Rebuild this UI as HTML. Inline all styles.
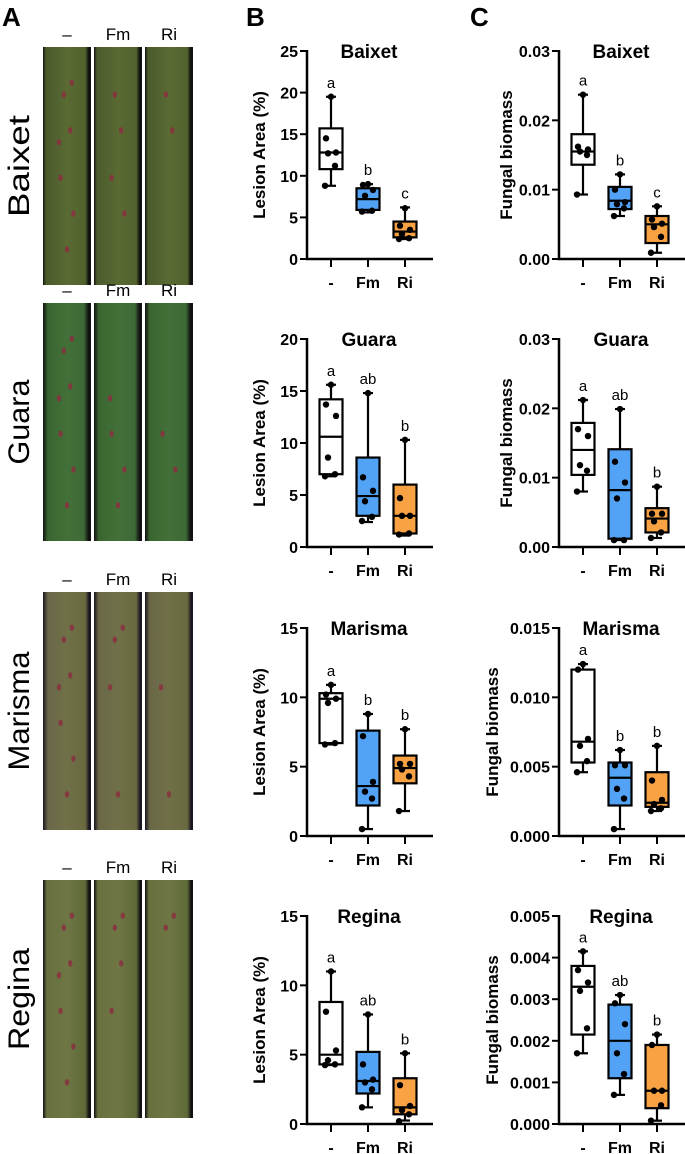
<!DOCTYPE html>
<html><head><meta charset="utf-8"><style>
html,body{margin:0;padding:0;background:#fff}
svg{display:block}
text{font-family:"Liberation Sans",Arial,sans-serif}
</style></head><body>
<svg id="fig" width="685" height="1154" viewBox="0 0 685 1154" xmlns="http://www.w3.org/2000/svg">
<defs>
<linearGradient id="lg0" x1="0" x2="1"><stop offset="0" stop-color="#111"/><stop offset="0.06" stop-color="#4a5a2c"/><stop offset="0.5" stop-color="#5a6a33"/><stop offset="0.88" stop-color="#52622d"/><stop offset="0.95" stop-color="#111"/></linearGradient>
<linearGradient id="lg1" x1="0" x2="1"><stop offset="0" stop-color="#111"/><stop offset="0.1" stop-color="#3a6530"/><stop offset="0.5" stop-color="#437038"/><stop offset="0.85" stop-color="#3d6a36"/><stop offset="0.95" stop-color="#111"/></linearGradient>
<linearGradient id="lg2" x1="0" x2="1"><stop offset="0" stop-color="#1a1520"/><stop offset="0.1" stop-color="#6a6848"/><stop offset="0.5" stop-color="#707048"/><stop offset="0.88" stop-color="#6a6a40"/><stop offset="0.96" stop-color="#1a1520"/></linearGradient>
<linearGradient id="lg3" x1="0" x2="1"><stop offset="0" stop-color="#111"/><stop offset="0.08" stop-color="#687040"/><stop offset="0.5" stop-color="#6e7644"/><stop offset="0.88" stop-color="#5d6a38"/><stop offset="0.96" stop-color="#111"/></linearGradient>
</defs>
<g id="leaves"></g>
<g id="charts"></g>
<text x="2" y="26" font-size="26" font-weight="bold">A</text>
<text x="246" y="26" font-size="26" font-weight="bold">B</text>
<text x="470" y="26" font-size="26" font-weight="bold">C</text>
</svg>
<script>
const NS="http://www.w3.org/2000/svg";
function mk(tag,attrs,parent){const e=document.createElementNS(NS,tag);for(const k in attrs)e.setAttribute(k,attrs[k]);parent.appendChild(e);return e;}

const cultivars=["Baixet","Guara","Marisma","Regina"];
const groups=["-","Fm","Ri"];
const letters=[["a","b","c"],["a","ab","b"],["a","b","b"],["a","ab","b"]];

// Lesion area (%) : box stats [min,q1,median,q3,max] per group
const lesionStats=[
 [[8.8,10.8,12.8,15.7,19.5],[5.6,5.9,7.2,8.5,9.0],[2.4,2.6,3.3,4.5,6.2]],
 [[6.8,7.0,10.6,14.2,15.6],[2.4,3.0,4.9,8.6,14.8],[1.1,1.3,3.0,6.0,10.3]],
 [[6.6,6.7,9.9,10.3,10.9],[0.5,2.2,3.6,7.6,8.8],[1.8,3.8,4.9,5.8,7.7]],
 [[4.25,4.3,5.0,8.8,11.0],[1.2,2.2,3.1,5.2,7.9],[0.25,0.7,1.2,3.3,5.1]]
];
const lesionPoints=[
 [[19.5,14.5,12.8,12.7,11.2,8.8],[9.0,8.9,8.3,7.6,5.8,5.7],[6.1,4.0,3.5,3.0,2.5,2.4]],
 [[15.6,13.7,12.6,8.6,7.0,6.8],[14.8,6.7,5.4,4.4,2.9,2.5],[10.3,4.7,3.0,3.0,1.3,1.2]],
 [[10.9,10.2,9.9,9.6,6.7,6.6],[8.8,7.2,3.9,3.2,2.7,0.5],[7.7,5.2,5.2,4.8,4.3,1.8]],
 [[11.0,8.1,5.3,4.6,4.3,4.25],[7.9,4.3,3.2,3.0,2.5,1.2],[5.1,2.8,1.3,1.0,0.7,0.2]]
];
const lesionMax=[25,20,15,15];
const lesionTicks=[[0,5,10,15,20,25],[0,5,10,15,20],[0,5,10,15],[0,5,10,15]];

// Fungal biomass
const bioStats=[
 [[0.0093,0.0136,0.0155,0.0180,0.0237],[0.0062,0.0072,0.0084,0.0104,0.0122],[0.0009,0.0023,0.0050,0.0062,0.0076]],
 [[0.0080,0.0104,0.0140,0.0179,0.0212],[0.0010,0.0012,0.0082,0.0141,0.0199],[0.0013,0.0021,0.0041,0.0056,0.0087]],
 [[0.0046,0.0053,0.0068,0.0120,0.0124],[0.0005,0.0022,0.0042,0.0053,0.0062],[0.0018,0.0021,0.0024,0.0046,0.0065]],
 [[0.0017,0.00215,0.0033,0.0038,0.00415],[0.0007,0.0011,0.0020,0.00287,0.0031],[0.00008,0.00038,0.0008,0.0019,0.00215]]
];
const bioPoints=[
 [[0.0237,0.0162,0.0158,0.0155,0.0150,0.0093],[0.0122,0.0100,0.0082,0.0079,0.0073,0.0062],[0.0076,0.0057,0.0051,0.0046,0.0032,0.0009]],
 [[0.0212,0.0170,0.0160,0.0118,0.0110,0.0080],[0.0199,0.0123,0.0093,0.0070,0.0010,0.0010],[0.0087,0.0048,0.0048,0.0037,0.0021,0.0013]],
 [[0.0124,0.0120,0.0070,0.0065,0.0054,0.0046],[0.0062,0.0051,0.0051,0.0034,0.0027,0.0005],[0.0065,0.0040,0.0026,0.0023,0.0020,0.0018]],
 [[0.00415,0.0037,0.0034,0.0032,0.0023,0.0017],[0.0031,0.0029,0.0024,0.0017,0.0012,0.0007],[0.00215,0.0019,0.0008,0.0008,0.00045,0.00008]]
];
const bioMax=[0.03,0.03,0.015,0.005];
const bioTickLabels=[["0.00","0.01","0.02","0.03"],["0.00","0.01","0.02","0.03"],["0.000","0.005","0.010","0.015"],["0.000","0.001","0.002","0.003","0.004","0.005"]];

const fills=["#ffffff","#52a3f6","#f8a244"];
const rowTop=[51,339,628,916];
const plotH=208;

// Leaves
const leaves=document.getElementById("leaves");
const leafTop=[47,303,592,880];
const stripX=[43,94,145];
const spots=[[0.4,0.2],[0.6,0.35],[0.3,0.55],[0.7,0.7],[0.5,0.85],[0.25,0.4],[0.65,0.15]];
cultivars.forEach((c,r)=>{
  const t=leafTop[r];
  const lbl=mk("text",{x:0,y:0,"font-size":30,"text-anchor":"middle",transform:`translate(29,${t+119}) rotate(-90)`,textLength:String(c.length*17),lengthAdjust:"spacingAndGlyphs"},leaves);
  lbl.textContent=c;
  
  
  groups.forEach((g,i)=>{
    const h=mk("text",{x:stripX[i]+24,y:t-7,"font-size":17,"text-anchor":"middle"},leaves);
    h.textContent=g==="-"?"–":g;
    
    
    const rc=mk("rect",{x:stripX[i],y:t,width:48,height:238,fill:`url(#lg${r})`},leaves);
    
    
    const n=i===0?7:(i===1?4:2);
    for(let k=0;k<n;k++){
      const s=spots[(k+r*2)%spots.length];
      mk("ellipse",{cx:stripX[i]+8+s[0]*32,cy:t+s[1]*238,rx:2.2,ry:3.2,fill:"#8a3040",opacity:0.85},leaves);
    }
  });
});

// Charts
const charts=document.getElementById("charts");
function drawChart(r,axisX,vmax,stats,points,tickVals,tickLabels,yTitle,panel,titleOff){
  const top=rowTop[r],zero=top+plotH;
  const y=v=>zero-v/vmax*plotH;
  const xPos=i=>axisX+24+i*37;
  const g=mk("g",{},charts);
  
  
  const tt=mk("text",{x:axisX+62,y:top+7,"font-size":19,"font-weight":"bold","text-anchor":"middle"},g);
  tt.textContent=cultivars[r];
  
  
  const yl=mk("text",{x:0,y:0,"font-size":17,"font-weight":"bold","text-anchor":"middle",transform:`translate(${axisX-titleOff},${top+plotH/2}) rotate(-90)`},g);
  yl.textContent=yTitle;
  
  
  tickVals.forEach((v,k)=>{
    mk("line",{x1:axisX-7,x2:axisX,y1:y(v),y2:y(v),stroke:"#000","stroke-width":2},g);
    const tl=mk("text",{x:axisX-9,y:y(v)+6,"font-size":16,"font-weight":"bold","text-anchor":"end"},g);
    tl.textContent=tickLabels[k];
    
    
  });
  const ax=mk("path",{d:`M${axisX},${top-1} V${zero} H${axisX+126}`,fill:"none",stroke:"#000","stroke-width":2.5},g);
  
  
  groups.forEach((gr,i)=>{
    const cx=xPos(i),s=stats[r][i];
    mk("line",{x1:cx,x2:cx,y1:zero,y2:zero+8,stroke:"#000","stroke-width":2},g);
    const xl=mk("text",{x:cx,y:zero+29,"font-size":16,"font-weight":"bold","text-anchor":"middle"},g);
    xl.textContent=gr;
    
    
    mk("line",{x1:cx,x2:cx,y1:y(s[0]),y2:y(s[4]),stroke:"#000","stroke-width":2.2},g);
    mk("line",{x1:cx-5,x2:cx+5,y1:y(s[0]),y2:y(s[0]),stroke:"#000","stroke-width":2.2},g);
    mk("line",{x1:cx-5,x2:cx+5,y1:y(s[4]),y2:y(s[4]),stroke:"#000","stroke-width":2.2},g);
    const bx=mk("rect",{x:cx-11.5,y:y(s[3]),width:23,height:Math.max(1,y(s[1])-y(s[3])),fill:fills[i],stroke:"#000","stroke-width":2.2},g);
    
    
    mk("line",{x1:cx-11.5,x2:cx+11.5,y1:y(s[2]),y2:y(s[2]),stroke:"#000","stroke-width":2.2},g);
    points[r][i].forEach((v,k)=>{
      const off=[0,-5,5,-3,4,-6][k];
      const p=mk("circle",{cx:cx+off,cy:y(v),r:3.2,fill:"#000"},g);
      
      
    });
    const lt=mk("text",{x:cx,y:y(s[4])-9,"font-size":15,"text-anchor":"middle"},g);
    lt.textContent=letters[r][i];
    
    
  });
}
for(let r=0;r<4;r++){
  drawChart(r,307,lesionMax[r],lesionStats,lesionPoints,lesionTicks[r],lesionTicks[r].map(String),"Lesion Area (%)","lesion",42);
  const labs=bioTickLabels[r];
  const vals=labs.map(Number);
  drawChart(r,559,bioMax[r],bioStats,bioPoints,vals,labs,"Fungal biomass","biomass",r<2?47:61);
}
</script>
</body></html>
